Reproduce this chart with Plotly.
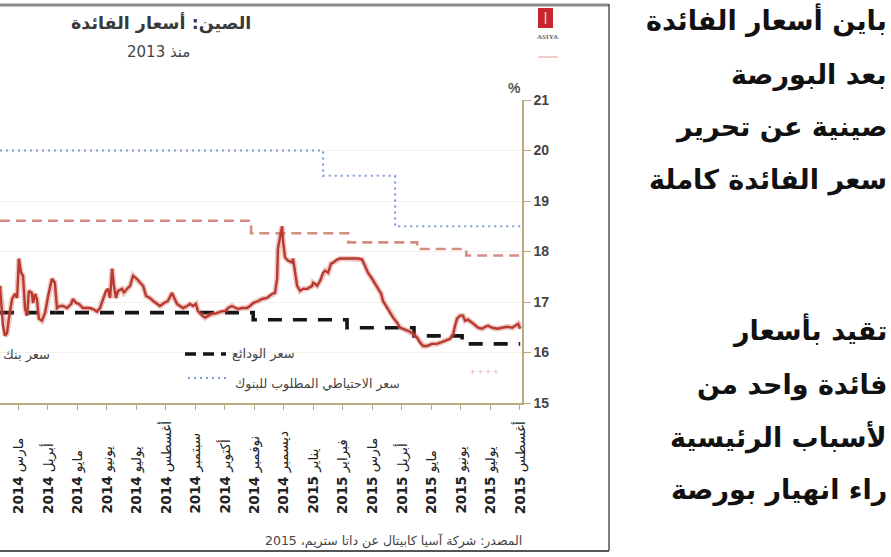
import plotly.graph_objects as go

# ---------------- data ----------------
month_labels = ["مارس 2014", "أبريل 2014", "مايو 2014", "يونيو 2014", "يوليو 2014",
                "أغسطس 2014", "سبتمبر 2014", "أكتوبر 2014", "نوفمبر 2014", "ديسمبر 2014",
                "يناير 2015", "فبراير 2015", "مارس 2015", "أبريل 2015", "مايو 2015",
                "يونيو 2015", "يوليو 2015", "أغسطس 2015"]
month_pos = list(range(18))
y_ticks = [15, 16, 17, 18, 19, 20, 21]

interbank_x = [-0.61, -0.54, -0.51, -0.44, -0.37, -0.31, -0.20, -0.10, -0.03, 0.03, 0.10, 0.17,
               0.24, 0.31, 0.37, 0.47, 0.51, 0.58, 0.64, 0.71, 0.81, 0.92, 1.02, 1.15, 1.25,
               1.32, 1.42, 1.53, 1.66, 1.80, 1.86, 1.97, 2.07, 2.20, 2.31, 2.44, 2.54, 2.68,
               2.78, 2.88, 2.98, 3.05, 3.12, 3.19, 3.25, 3.32, 3.39, 3.53, 3.59, 3.69, 3.80,
               3.90, 4.03, 4.14, 4.24, 4.34, 4.47, 4.58, 4.71, 4.81, 4.95, 5.08, 5.22, 5.29,
               5.39, 5.49, 5.59, 5.73, 5.83, 5.93, 6.03, 6.10, 6.24, 6.34, 6.44, 6.58, 6.68,
               6.78, 6.92, 7.02, 7.12, 7.25, 7.36, 7.46, 7.59, 7.76, 7.86, 7.97, 8.14, 8.27,
               8.44, 8.61, 8.71, 8.78, 8.81, 8.88, 8.95, 8.98, 9.05, 9.15, 9.29, 9.32, 9.39,
               9.46, 9.56, 9.66, 9.80, 9.86, 9.97, 10.00, 10.07, 10.14, 10.24, 10.34, 10.41,
               10.51, 10.61, 10.68, 10.81, 10.92, 11.15, 11.36, 11.53, 11.66, 11.76, 11.86,
               12.00, 12.10, 12.20, 12.31, 12.37, 12.51, 12.61, 12.71, 12.85, 12.95, 13.05,
               13.22, 13.39, 13.53, 13.63, 13.73, 13.86, 14.03, 14.20, 14.31, 14.47, 14.64,
               14.75, 14.81, 14.88, 14.98, 15.08, 15.15, 15.25, 15.39, 15.49, 15.59, 15.73,
               15.83, 15.93, 16.07, 16.24, 16.41, 16.58, 16.75, 16.85, 16.95, 17.02]
interbank_y = [17.32, 16.79, 16.53, 16.33, 16.39, 16.67, 17.06, 17.16, 17.08, 17.86, 17.58, 17.52,
               16.86, 16.73, 17.22, 17.18, 16.98, 17.16, 17.06, 16.67, 16.63, 16.79, 17.12, 17.46, 17.38,
               16.88, 16.92, 16.92, 16.88, 16.96, 17.06, 16.98, 16.96, 16.88, 16.88, 16.88, 16.86, 16.81,
               16.88, 17.06, 17.22, 17.26, 17.08, 17.66, 17.32, 17.08, 17.22, 17.26, 17.18, 17.26, 17.32,
               17.52, 17.46, 17.38, 17.32, 17.12, 17.08, 17.02, 16.96, 16.92, 16.98, 17.02, 17.18, 17.08,
               16.96, 16.92, 16.88, 16.92, 16.96, 16.92, 16.96, 16.82, 16.73, 16.69, 16.73, 16.77, 16.77,
               16.79, 16.82, 16.82, 16.88, 16.92, 16.88, 16.86, 16.88, 16.88, 16.92, 16.98, 17.02, 17.06,
               17.08, 17.16, 17.18, 17.46, 18.06, 18.32, 18.50, 18.22, 17.88, 17.82, 17.78, 17.86, 17.62,
               17.32, 17.22, 17.26, 17.26, 17.28, 17.32, 17.38, 17.36, 17.32, 17.42, 17.58, 17.62,
               17.58, 17.76, 17.78, 17.84, 17.86, 17.86, 17.86, 17.86, 17.84, 17.72, 17.58,
               17.46, 17.36, 17.28, 17.16, 17.02, 16.88, 16.79, 16.69, 16.59, 16.49, 16.47,
               16.43, 16.37, 16.29, 16.19, 16.13, 16.13, 16.17, 16.17, 16.19, 16.23, 16.27,
               16.37, 16.53, 16.67, 16.73, 16.73, 16.63, 16.65, 16.59, 16.53, 16.49, 16.47,
               16.51, 16.53, 16.49, 16.47, 16.49, 16.51, 16.49, 16.53, 16.57, 16.47]

lending_x = [-0.61, 7.90, 11.19, 13.53, 15.19, 17.02]
lending_y = [18.61, 18.36, 18.18, 18.05, 17.92, 17.92]
deposit_x = [-0.61, 7.97, 11.15, 13.42, 15.05, 17.02]
deposit_y = [16.79, 16.65, 16.49, 16.33, 16.17, 16.17]
rrr_x = [-0.61, 10.34, 12.78, 17.02]
rrr_y = [20.0, 19.5, 18.5, 18.5]

title_text = "الصين: أسعار الفائدة"
subtitle_text = "منذ 2013"
source_text = "المصدر: شركة آسيا كابيتال عن داتا ستريم، 2015"
legend_interbank = "سعر بنك"
legend_deposit = "سعر الودائع"
legend_rrr = "سعر الاحتياطي المطلوب للبنوك"
article_lines = ["باين أسعار الفائدة", "بعد البورصة", "صينية عن تحرير", "سعر الفائدة كاملة",
                 "تقيد بأسعار", "فائدة واحد من", "لأسباب الرئيسية", "راء انهيار بورصة"]
article_line_y = [20, 75, 127, 180, 330, 385, 437, 490]

# ---------------- layout helpers (pixel -> paper) ----------------
W, H = 891, 557
PL, PR, PT, PB = 0, 522, 100, 403


def px_x(p):
    return (p - PL) / (PR - PL)


def px_y(p):
    return (PB - p) / (PB - PT)


TAN = "#bba97f"
ARFONT = "DejaVu Sans, Liberation Sans, sans-serif"


def note(x, y, text, size, color="#444", xanchor="center", family=ARFONT, **kw):
    return dict(x=px_x(x), y=px_y(y), xref="paper", yref="paper", text=text,
                showarrow=False, xanchor=xanchor, yanchor="middle",
                font=dict(family=family, size=size, color=color), **kw)


fig = go.Figure()

fig.add_trace(go.Scatter(x=rrr_x, y=rrr_y, mode="lines", line_shape="hv",
                         line=dict(color="#7d9bd8", width=2.2, dash="2px,4px"), hoverinfo="skip"))
fig.add_trace(go.Scatter(x=lending_x, y=lending_y, mode="lines", line_shape="hv",
                         line=dict(color="#d98c82", width=2.6, dash="10px,6px"), hoverinfo="skip"))
fig.add_trace(go.Scatter(x=deposit_x, y=deposit_y, mode="lines", line_shape="hv",
                         line=dict(color="#151515", width=3.6, dash="14px,11px"), hoverinfo="skip"))
fig.add_trace(go.Scatter(x=interbank_x, y=interbank_y, mode="lines",
                         line=dict(color="rgba(205,95,85,0.35)", width=5.5), hoverinfo="skip"))
fig.add_trace(go.Scatter(x=interbank_x, y=interbank_y, mode="lines",
                         line=dict(color="#b93a2f", width=2.4), hoverinfo="skip"))

annotations = []
# x tick labels (rotated, bottom-aligned); year in bold
for pos, lab in zip(month_pos, month_labels):
    month, year = lab.split(" ")
    annotations.append(dict(x=pos, xref="x", y=px_y(516), yref="paper",
                            text=month + " <b>" + year + "</b>",
                            textangle=-90, showarrow=False, xanchor="center", yanchor="bottom",
                            font=dict(family=ARFONT, size=13.5, color="#222")))
annotations += [
    note(161, 23, "<b>" + title_text + "</b>", 17.5, color="#3a3a3a"),
    note(158, 52, subtitle_text, 15, color="#444"),
    note(514, 88, "<b>%</b>", 14, color="#555", family="Liberation Sans, Arial"),
    note(524, 541, source_text, 12.5, color="#444", xanchor="right"),
    note(52, 355, legend_interbank, 13, color="#444", xanchor="right"),
    note(230, 354, legend_deposit, 13, color="#444", xanchor="left"),
    note(233, 384, legend_rrr, 12.5, color="#444", xanchor="left"),
    note(484, 372, "+ + + +", 9, color="#e3b0a8", family="Liberation Sans"),
    note(547, 37, "<b>ASIYA</b>", 7, color="#666", family="Liberation Serif"),
]
# article text column
for txt, yy in zip(article_lines, article_line_y):
    annotations.append(note(889, yy, "<b>" + txt + "</b>", 27, color="#111", xanchor="right"))

shapes = [
    # legend symbols
    dict(type="line", xref="paper", yref="paper", x0=px_x(185), x1=px_x(226), y0=px_y(354), y1=px_y(354),
         line=dict(color="#151515", width=3.6, dash="11px,7px")),
    dict(type="line", xref="paper", yref="paper", x0=px_x(188), x1=px_x(228), y0=px_y(378), y1=px_y(378),
         line=dict(color="#7d9bd8", width=2.2, dash="2px,4px")),
    # chart frame
    dict(type="line", xref="paper", yref="paper", x0=px_x(0), x1=px_x(609), y0=px_y(5), y1=px_y(5),
         line=dict(color="#8a8a8a", width=3)),
    dict(type="line", xref="paper", yref="paper", x0=px_x(609), x1=px_x(609), y0=px_y(4), y1=px_y(551),
         line=dict(color="#555", width=1.5)),
    dict(type="line", xref="paper", yref="paper", x0=px_x(0), x1=px_x(609), y0=px_y(551), y1=px_y(551),
         line=dict(color="#555", width=2)),
    # logo
    dict(type="rect", xref="paper", yref="paper", x0=px_x(538), x1=px_x(553), y0=px_y(8), y1=px_y(28),
         fillcolor="#c8262e", line=dict(width=0)),
    dict(type="line", xref="paper", yref="paper", x0=px_x(545.5), x1=px_x(545.5), y0=px_y(12), y1=px_y(24),
         line=dict(color="#f3c9c9", width=1.5)),
    dict(type="line", xref="paper", yref="paper", x0=px_x(538), x1=px_x(558), y0=px_y(57), y1=px_y(57),
         line=dict(color="#e49a9a", width=1)),
]

fig.update_layout(
    width=W, height=H,
    margin=dict(l=PL, r=W - PR, t=PT, b=H - PB, autoexpand=False),
    paper_bgcolor="white", plot_bgcolor="white",
    showlegend=False,
    annotations=annotations, shapes=shapes,
    xaxis=dict(range=[-0.61, 17.08], tickvals=month_pos, showticklabels=False,
               ticks="outside", ticklen=5, tickcolor=TAN, tickwidth=1,
               showline=True, linecolor=TAN, linewidth=1.5, showgrid=False, zeroline=False,
               automargin=False),
    yaxis=dict(range=[15, 21], side="right", tickvals=y_ticks, ticks="outside", ticklen=7,
               tickcolor=TAN, tickwidth=1, showline=True, linecolor=TAN, linewidth=1.5,
               showgrid=True, gridcolor="#f4f1ea", gridwidth=1, zeroline=False,
               tickfont=dict(family="Liberation Sans, Arial", size=14, color="#444", weight="bold"),
               automargin=False),
)

fig.write_html("out.html", config={"displayModeBar": False},
               post_script="document.body.style.margin='0';")
